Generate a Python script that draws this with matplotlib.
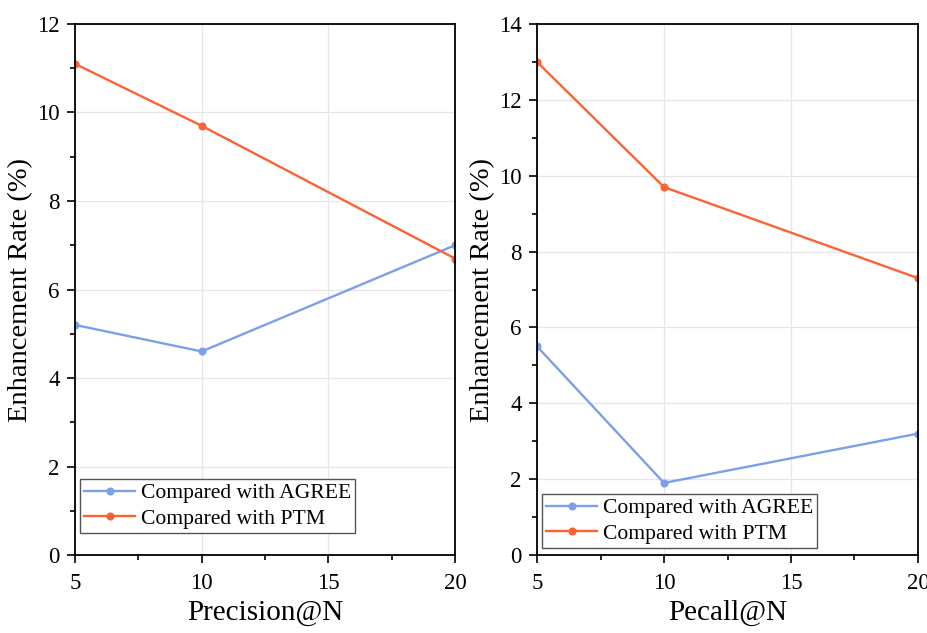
# Enhancement rate vs. AGREE / PTM at Precision@N and Recall@N (two panels)
import numpy as np
import matplotlib; matplotlib.use("Agg"); import matplotlib.pyplot as plt
from matplotlib.ticker import MultipleLocator

plt.rcParams["font.family"] = ["Liberation Serif", "DejaVu Serif"]

N = [5, 10, 20]
prec_agree = [5.2, 4.6, 7.0]
prec_ptm = [11.1, 9.7, 6.7]
rec_agree = [5.5, 1.9, 3.2]
rec_ptm = [13.0, 9.7, 7.3]
labels = ["Compared with AGREE", "Compared with PTM"]
BLUE, ORANGE = "#7b9fe8", "#fb6234"

fig = plt.figure(figsize=(9.28, 6.33), dpi=100)
axL = fig.add_axes([0.0808, 0.1232, 0.4095, 0.8389])
axR = fig.add_axes([0.5787, 0.1232, 0.4105, 0.8389])

for ax, a, p, ymax, xl, lpos in [(axL, prec_agree, prec_ptm, 12, "Precision@N", (0.013, 0.041)),
                                 (axR, rec_agree, rec_ptm, 14, "Pecall@N", (0.013, 0.013))]:
    ax.plot(N, a, color=BLUE, lw=1.7, marker="o", ms=4.8, label=labels[0])
    ax.plot(N, p, color=ORANGE, lw=1.7, marker="o", ms=4.8, label=labels[1])
    ax.set_xlim(5, 20); ax.set_ylim(0, ymax)
    ax.xaxis.set_major_locator(MultipleLocator(5)); ax.xaxis.set_minor_locator(MultipleLocator(2.5))
    ax.yaxis.set_major_locator(MultipleLocator(2)); ax.yaxis.set_minor_locator(MultipleLocator(1))
    ax.tick_params(which="both", direction="out", top=False, right=False, labelsize=16.5, width=1.2)
    ax.tick_params(which="major", length=6, pad=5); ax.tick_params(which="minor", length=3.5)
    ax.tick_params(axis="x", which="major", pad=7)
    ax.grid(which="major", color="#e6e6e6", lw=0.9)
    ax.set_axisbelow(True)
    for s in ax.spines.values(): s.set_linewidth(1.3)
    ax.set_xlabel(xl, fontsize=21, labelpad=4)
    ax.set_ylabel("Enhancement Rate (%)", fontsize=20.5, labelpad=3)
    leg = ax.legend(loc="lower left", bbox_to_anchor=lpos, fontsize=15.6, fancybox=False,
                    framealpha=1, edgecolor="#555555", borderpad=0.2, labelspacing=0.25,
                    handlelength=2.35, handletextpad=0.25, borderaxespad=0)
    leg.get_frame().set_linewidth(1.0)

plt.savefig("out.png", dpi=100)
